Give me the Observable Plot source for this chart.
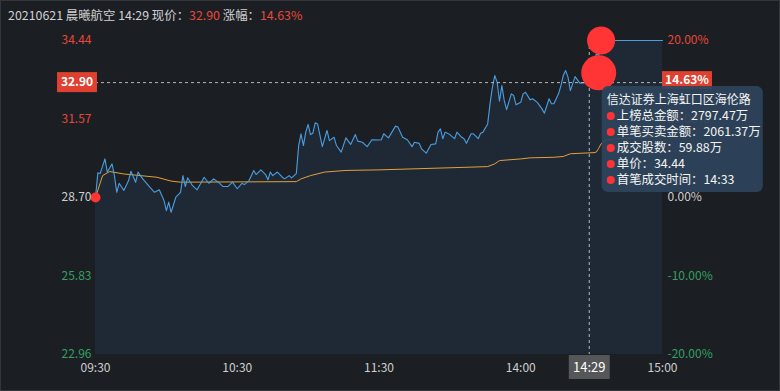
<!DOCTYPE html>
<html><head><meta charset="utf-8">
<script src="https://cdn.jsdelivr.net/npm/d3@7"></script>
<script src="https://cdn.jsdelivr.net/npm/@observablehq/plot@0.6"></script>
<style>
body{margin:0;background:#1b1e23;}
#wrap{position:relative;width:780px;height:391px;overflow:hidden;background:#1b1e23;font-family:"Noto Sans CJK SC","Noto Sans",sans-serif;}
#hdr{position:absolute;left:8px;top:5px;font-size:12.4px;color:#d2d2d2;white-space:pre;line-height:20px;}
#hdr .up{color:#e8483a;}
#border{position:absolute;left:0;top:0;width:778px;height:389px;border:1px solid #33363b;pointer-events:none;}
</style></head><body>
<div id="wrap"><div id="chart"></div><div id="hdr"></div><div id="border"></div></div>
<script>
// ---- data ----
const stockDate = "20210621";
const stockName = "晨曦航空";
const cursorTime = "14:29";
const cursorMinute = 209;
const currentPrice = 32.90;
const currentPct = "14.63%";
const prevClose = 28.70;

const priceMinutes = [0,1,2,4,5,6,7,8,9,10,12,14,15,17,18,20,23,25,27,29,30,31,32,34,36,37,38,39,41,43,46,48,50,52,54,56,58,60,62,63,65,67,68,70,72,73,74,75,77,79,80,82,83,85,86,87,88,89,90,91,92,93,94,96,98,99,101,102,104,106,108,110,111,113,115,117,120,121,122,124,127,128,130,132,134,135,137,138,140,142,144,145,146,147,148,150,152,153,155,156,157,159,160,162,163,164,166,167,168,169,170,171,172,173,174,176,177,178,180,181,182,184,185,187,189,190,192,193,194,196,197,198,199,200,201,203,205,207,209,210,211,212,213,214,215,216,217,218,240];
const prices = [28.70,29.60,29.58,30.11,29.63,29.78,29.93,29.50,28.89,29.22,28.96,29.32,29.66,29.26,29.63,29.38,29.08,28.89,28.98,28.59,28.22,28.53,28.16,28.71,28.89,29.50,29.10,29.42,29.14,28.98,29.44,29.22,29.38,29.26,29.10,29.10,29.26,29.02,29.22,29.17,29.32,29.69,29.54,29.71,29.54,29.35,29.63,29.50,29.63,29.45,29.38,29.50,29.42,29.57,30.60,31.03,30.60,31.09,31.37,31.00,31.05,31.43,31.39,30.56,31.15,30.78,30.90,30.60,30.36,30.88,30.64,31.00,30.76,30.72,30.56,30.81,30.80,30.81,31.03,30.88,31.31,31.28,30.90,30.81,30.56,30.72,30.68,30.48,30.32,30.64,30.66,31.09,31.21,30.85,31.09,31.00,30.85,31.09,30.90,30.85,30.68,31.03,31.03,30.85,31.05,31.09,31.39,32.13,32.73,33.16,32.92,32.22,32.79,32.25,31.91,32.49,32.43,32.09,32.18,32.49,32.55,32.27,32.31,32.18,31.94,31.78,32.31,32.13,32.13,32.49,32.79,33.16,33.34,33.10,32.61,33.12,32.88,32.90,32.90,33.30,33.60,33.95,33.90,34.10,34.30,34.20,34.35,34.44,34.44];

const avgMinutes = [0,3,6,12,19,26,32,36,85,87,91,97,106,120,159,166,169,171,180,184,194,198,201,211,212,213,214,216,220,240];
const avgPrices = [28.70,29.50,29.65,29.56,29.50,29.44,29.30,29.26,29.28,29.38,29.50,29.63,29.69,29.71,29.81,29.83,29.93,30.05,30.11,30.15,30.17,30.20,30.30,30.34,30.36,30.50,30.66,30.80,30.85,30.92];

const markerMinutes = [214, 213];
const markerPrices = [34.44, 33.26];
const markerRadii = [14, 17.5];

const yTicks = [22.96, 25.83, 28.70, 31.57, 34.44];
const yTickLabels = ["22.96", "25.83", "28.70", "31.57", "34.44"];
const pctLabels = ["-20.00%", "-10.00%", "0.00%", "10.00%", "20.00%"];
const xTicks = [0, 60, 120, 180, 240];
const xTickLabels = ["09:30", "10:30", "11:30", "14:00", "15:00"];

const tipTitle = "信达证券上海虹口区海伦路";
const tipLines = ["上榜总金额：2797.47万", "单笔买卖金额：2061.37万", "成交股数：59.88万", "单价：34.44", "首笔成交时间：14:33"];

// ---- build ----
const RED = "#e8483a", GREEN = "#35a060", GREY = "#cfcfcf";
const colorOf = v => v > prevClose + 1e-6 ? RED : v < prevClose - 1e-6 ? GREEN : GREY;
const series = priceMinutes.map((m, i) => ({m, p: prices[i]}));
const avg = avgMinutes.map((m, i) => ({m, p: avgPrices[i]}));
const markers = markerMinutes.map((m, i) => ({m, p: markerPrices[i], r: markerRadii[i]}));
const ticks = yTicks.map((v, i) => ({v, label: yTickLabels[i], pct: pctLabels[i]}));
const xt = xTicks.map((m, i) => ({m, label: xTickLabels[i]}));
const yMin = yTicks[0], yMax = yTicks[yTicks.length - 1];

document.getElementById("hdr").innerHTML =
  `${stockDate} ${stockName} ${cursorTime} 现价：<span class="up">${currentPrice.toFixed(2)}</span> 涨幅：<span class="up">${currentPct}</span>`;

const font = '"Noto Sans CJK SC","Noto Sans",sans-serif';
const plot = Plot.plot({
  width: 780, height: 391,
  marginLeft: 95, marginRight: 118, marginTop: 40, marginBottom: 37,
  style: {background: "transparent", fontFamily: font, fontSize: "12px", overflow: "visible"},
  x: {domain: [0, 240], axis: null},
  y: {domain: [yMin, yMax], axis: null},
  r: {type: "identity"},
  color: {type: "identity"},
  marks: [
    Plot.areaY(series, {x: "m", y1: () => yMin, y2: "p", fill: "#1f2935", curve: "linear"}),
    Plot.line(avg, {x: "m", y: "p", stroke: "#e3a03a", strokeWidth: 1}),
    Plot.line(series, {x: "m", y: "p", stroke: "#4a9ee0", strokeWidth: 1.1}),
    Plot.ruleY([currentPrice], {stroke: "#b8b8b8", strokeDasharray: "3,3", strokeWidth: 1}),
    Plot.ruleX([cursorMinute], {stroke: "#b8b8b8", strokeDasharray: "3,3", strokeWidth: 1}),
    Plot.dot([{m: 0, p: prevClose}], {x: "m", y: "p", r: 5, fill: "#ff3333"}),
    Plot.dot(markers, {x: "m", y: "p", r: "r", fill: "#ff3535"}),
    Plot.text(ticks, {x: () => 0, y: "v", text: "label", dx: -4, textAnchor: "end", fill: d => colorOf(d.v), fontSize: 12}),
    Plot.text(ticks, {x: () => 240, y: "v", text: "pct", dx: 5, textAnchor: "start", fill: d => colorOf(d.v), fontSize: 12}),
    Plot.text(xt, {x: "m", y: () => yMin, text: "label", dy: 14, fill: GREY, fontSize: 12,
      textAnchor: d => d.m === 0 ? "start" : d.m === 240 ? "end" : "middle"})
  ]
});
document.getElementById("chart").appendChild(plot);

// ---- overlays placed through the plot's scales ----
const sx = plot.scale("x"), sy = plot.scale("y");
const X = sx.apply ? v => sx.apply(v) : d3.scaleLinear(sx.domain, sx.range);
const Y = sy.apply ? v => sy.apply(v) : d3.scaleLinear(sy.domain, sy.range);
const svg = d3.select(plot);
const px = X(cursorMinute), py = Y(currentPrice);
const x0 = X(0), x1 = X(240), yb = Y(yMin);

// left price tag
const lg = svg.append("g").attr("text-anchor", "middle");
lg.append("rect").attr("x", x0 - 38).attr("y", py - 10).attr("width", 40).attr("height", 20).attr("fill", "#e0402f");
lg.append("text").attr("x", x0 - 18).attr("y", py).attr("dy", "0.35em")
  .attr("fill", "#fff").attr("font-size", 12).attr("font-weight", "bold").text(currentPrice.toFixed(2));
// right pct tag
const rg = svg.append("g").attr("text-anchor", "middle");
rg.append("rect").attr("x", x1).attr("y", py - 11).attr("width", 50).attr("height", 18).attr("fill", "#e0402f");
rg.append("text").attr("x", x1 + 25).attr("y", py - 2).attr("dy", "0.35em")
  .attr("fill", "#fff").attr("font-size", 12).attr("font-weight", "bold").text(currentPct);
// time tag
const tg = svg.append("g").attr("text-anchor", "middle");
tg.append("rect").attr("x", px - 20).attr("y", yb + 1).attr("width", 41).attr("height", 24).attr("fill", "#555658");
tg.append("text").attr("x", px + 0.5).attr("y", yb + 13).attr("dy", "0.35em")
  .attr("fill", "#fff").attr("font-size", 13).text(cursorTime);
// tooltip
const tip = svg.append("g").attr("transform", `translate(${px + 13},${py + 4})`)
  .attr("font-family", font).attr("text-anchor", "start");
tip.append("rect").attr("width", 161).attr("height", 106).attr("rx", 6).attr("fill", "#2e445c").attr("fill-opacity", 0.92);
tip.append("text").attr("x", 5).attr("y", 14).attr("dy", "0.35em").attr("fill", "#f4f4f4").attr("font-size", 12).text(tipTitle);
tipLines.forEach((t, i) => {
  const yy = 30 + i * 16;
  tip.append("circle").attr("cx", 9).attr("cy", yy).attr("r", 4).attr("fill", "#ff3333");
  tip.append("text").attr("x", 15).attr("y", yy).attr("dy", "0.35em").attr("fill", "#f4f4f4").attr("font-size", 12.4).text(t);
});
</script>
</body></html>
